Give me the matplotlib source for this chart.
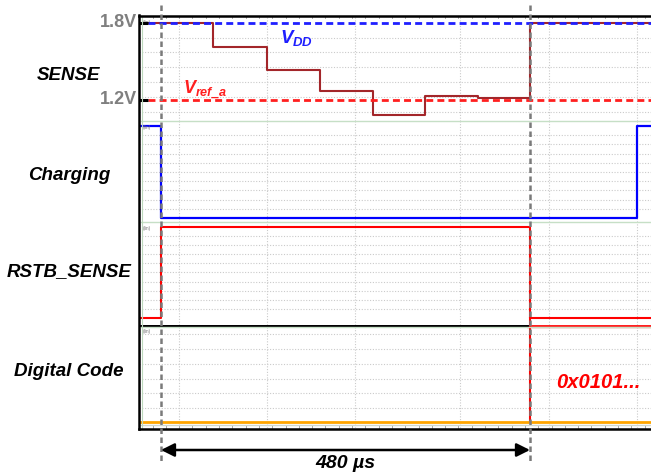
import numpy as np
import matplotlib
matplotlib.use("Agg")
import matplotlib.pyplot as plt
from matplotlib.lines import Line2D

plt.rcParams['font.family'] = ['Liberation Sans', 'DejaVu Sans']
plt.rcParams['mathtext.fontset'] = 'custom'
plt.rcParams['mathtext.rm'] = 'Liberation Sans:bold:italic'
plt.rcParams['mathtext.it'] = 'Liberation Sans:bold:italic'
plt.rcParams['mathtext.bf'] = 'Liberation Sans:bold:italic'

W, H = 651, 474

# time axis in us, 0 = start of the sensing window
t_lim = (-28.6, 637.4)
span_us = 480

# SENSE node (V), step trace
sense_t = [-21, 68, 138, 207, 276, 343, 412, 480, 637]
sense_v = [1.80, 1.61, 1.43, 1.27, 1.08, 1.23, 1.215, 1.80, 1.80]
vdd = 1.8
vref = 1.2

# logic traces (0/1)
chg_t = [-26, 0, 619, 637]
chg_v = [1, 0, 1, 1]
rstb_t = [-26, 0, 480, 637]
rstb_v = [0, 1, 0, 0]
code_t = [-26, 480, 637]
code_text = "0x0101..."

panel_names = ["SENSE", "Charging", "RSTB_SENSE", "Digital Code"]
label_y = [76, 176, 272, 372]   # pixel rows of the channel names

# scope grid
grid_t = [23, 138, 252, 389, 505, 619]
sense_grid = [1.683, 1.574, 1.457, 1.340, 1.223, 1.106]
logic_grid = [0.1, 0.2, 0.3, 0.4, 0.5, 0.6, 0.7, 0.8, 0.9]
code_grid = [0.194, 0.340, 0.476, 0.621, 0.767, 0.913]

fig = plt.figure(figsize=(W / 100, H / 100), dpi=100)

x0 = 139 / W


def rect(top, bot):
    return [x0, 1 - bot / H, 1 - x0, (bot - top) / H]


def fline(xs, ys, **kw):
    # decoration line in figure pixel coordinates
    fig.add_artist(Line2D([x / W for x in xs], [1 - y / H for y in ys],
                          transform=fig.transFigure, **kw))


panels = [(16, 121), (121, 222), (222, 325), (325, 428)]
ylims = [(1.0363, 1.8545), (-0.043, 1.054), (-0.077, 1.055), (0, 1)]
ygrids = [sense_grid, logic_grid, logic_grid, code_grid]
axes = []
for (top, bot), yl, yg in zip(panels, ylims, ygrids):
    ax = fig.add_axes(rect(top, bot))
    ax.set_xlim(t_lim)
    ax.set_ylim(yl)
    ax.set_xticks(grid_t)
    ax.set_yticks(yg)
    ax.grid(True, ls=(0, (1, 1.5)), color='#cacaca', lw=0.8)
    ax.tick_params(length=0, labelleft=False, labelbottom=False)
    for s in ax.spines.values():
        s.set_visible(False)
    ax.patch.set_alpha(0)
    axes.append(ax)

ax_s, ax_c, ax_r, ax_d = axes

# SENSE panel
ax_s.plot(sense_t, sense_v, drawstyle='steps-post', color='#a3262a', lw=1.5, zorder=3)
yx = ax_s.get_yaxis_transform()
ax_s.plot([0.017, 1], [vdd, vdd], transform=yx, color='#1f1fff', lw=2,
          dashes=(2.5, 1.5), zorder=4)
ax_s.plot([0.017, 1], [vref, vref], transform=yx, color='#ff1f1f', lw=2,
          dashes=(2.5, 1.5), zorder=4)
for v in (vdd, vref):
    ax_s.plot([0, 0.018], [v, v], transform=yx, color='k', lw=2.2,
              solid_capstyle='butt', clip_on=False, zorder=5)
    ax_s.text(-0.004, v, f"{v:.1f}V", transform=yx, ha='right', va='center',
              color='#7f7f7f', fontsize=13, fontweight='bold')
ax_s.text(155, 1.644, r'$V_{DD}$', color='#1f1fff', fontsize=13.5, va='baseline')
ax_s.text(28, 1.239, r'$V_{ref\_a}$', color='#ff1f1f', fontsize=13, va='baseline')

# Charging / RSTB
ax_c.plot(chg_t, chg_v, drawstyle='steps-post', color='#0000ff', lw=1.6, zorder=3)
ax_r.plot(rstb_t, rstb_v, drawstyle='steps-post', color='#ff0000', lw=1.5, zorder=3)
ax_r.plot([rstb_t[2], rstb_t[2]], [0, -0.1], color='#ff0000', lw=1.5, clip_on=False)

# Digital code panel
ax_d.plot(code_t[:2], [0.995, 0.995], color='k', lw=1.5, zorder=3)
ax_d.plot(code_t[1:], [0.995, 0.995], color='#ff2020', lw=1.5, zorder=3)
ax_d.plot(code_t[1:], [0.995, 0.995], color='#ff8080', lw=4, alpha=0.35, zorder=2)
ax_d.plot([code_t[1], code_t[1]], [0.995, 0.058], color='#ff0000', lw=1.5, zorder=3)
ax_d.plot([t_lim[0], t_lim[1]], [0.058, 0.058], color='#ffa500', lw=2, zorder=3)
ax_d.plot([t_lim[0], t_lim[1]], [0.03, 0.03], color='#cfd8cf', lw=1, zorder=2)
ax_d.text(514, 0.437, code_text, color='#ff0000', fontsize=14.5,
          fontweight='bold', style='italic', va='center')

# small scope channel tags
for ax in axes:
    ax.text(0.008, 0.96, "(lin)", transform=ax.transAxes, fontsize=3.5,
            color='#777777', va='top')

# separators and frame
for y in (121, 222, 327):
    fline([141, 651], [y, y], color='#c6dfc6', lw=1)
fline([141.5, 141.5], [16, 428], color='#bcd8bc', lw=0.8)
fline([139, 651], [16, 16], color='k', lw=1.8)
fline([139, 139], [15, 429], color='k', lw=1.8)
fline([139, 651], [428.5, 428.5], color='k', lw=1.8)

# top/bottom small tick marks
for ax, ypos in ((ax_s, 1.0), (ax_d, 0.0)):
    ticks = np.arange(-11, 637, 17.3)
    sign = -1 if ypos == 1.0 else 1
    for tt in ticks:
        ax.plot([tt, tt], [ypos, ypos + sign * 0.02], transform=ax.get_xaxis_transform(),
                color='#9a9a9a', lw=0.6, clip_on=False)

# left channel labels
for name, yp in zip(panel_names, label_y):
    fig.text(69 / W, 1 - yp / H, name, ha='center', va='center',
             fontsize=13.5, fontweight='bold', style='italic')

# overlay: cursor lines and span arrow
ov = fig.add_axes([x0, 0, 1 - x0, 1], zorder=10)
ov.set_xlim(t_lim)
ov.set_ylim(H, 0)
ov.axis('off')
for tt in (0, span_us):
    ov.plot([tt, tt], [5, 462], color='#7a7a7a', lw=1.8, dashes=(2.2, 1.4))
ov.annotate('', xy=(0, 450), xytext=(span_us, 450),
            arrowprops=dict(arrowstyle='<|-|>', color='k', lw=1.8,
                            mutation_scale=20, shrinkA=0, shrinkB=0))
ov.text(span_us / 2, 464, f"{span_us} µs", ha='center', va='center',
        fontsize=14, fontweight='bold', style='italic')

fig.savefig("out.png", dpi=100)
